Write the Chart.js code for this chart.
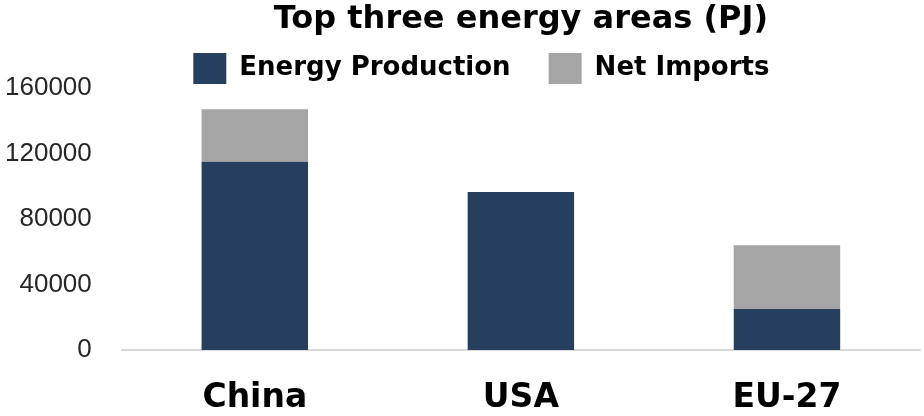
<!DOCTYPE html>
<html lang="en">
<head>
<meta charset="UTF-8">
<title>Top three energy areas (PJ)</title>
<script src="https://cdn.jsdelivr.net/npm/chart.js@4"></script>
<style>
  body { margin: 0; background: #fff; }
  #wrap { width: 924px; height: 416px; }
</style>
</head>
<body>
<div id="wrap"><canvas id="chart" width="924" height="416"></canvas></div>
<script>
  // values (PJ)
  const areas = ['China', 'USA', 'EU-27'];
  const production = [115000, 96500, 25000];
  const netImports = [32000, 0, 39000];
  const yTicks = [0, 40000, 80000, 120000, 160000];

  // legend labels.padding also sets the gap between items, so squeeze its height back
  // and nudge the centred row a bit to the left like the original
  const legendTweak = {
    id: 'legendTweak',
    afterInit(chart) {
      const fit = chart.legend.fit;
      chart.legend.fit = function () {
        fit.call(this);
        this.height = 73;
        if (this.lineWidths && this.lineWidths.length) this.lineWidths[0] += 79;
      };
    }
  };

  new Chart(document.getElementById('chart'), {
    type: 'bar',
    data: {
      labels: areas,
      datasets: [
        { label: 'Energy Production', data: production, backgroundColor: '#273F5F' },
        { label: 'Net Imports', data: netImports, backgroundColor: '#A5A5A5' }
      ]
    },
    options: {
      responsive: false,
      animation: false,
      // tick padding counts twice in the axis sizes, hence the negative paddings
      layout: { padding: { left: -25, right: 4, top: 0, bottom: -31 } },
      datasets: { bar: { categoryPercentage: 1, barPercentage: 0.4 } },
      plugins: {
        title: {
          display: true,
          text: 'Top three energy areas (PJ)',
          fullSize: false,
          color: '#000',
          font: { family: 'DejaVu Sans', weight: 'bold', size: 32 },
          padding: { top: 0, bottom: -23.4 }
        },
        legend: {
          fullSize: false,
          labels: {
            boxWidth: 33,
            boxHeight: 31,
            padding: 38,
            color: '#000',
            font: { family: 'DejaVu Sans', weight: 'bold', size: 26 }
          }
        },
        tooltip: { enabled: false }
      },
      scales: {
        x: {
          stacked: true,
          grid: { display: false, drawTicks: false },
          border: { display: true, color: '#D9D9D9', width: 2 },
          ticks: {
            color: '#000',
            padding: 32,
            font: { family: 'DejaVu Sans', weight: 'bold', size: 33, lineHeight: 1 }
          }
        },
        y: {
          stacked: true,
          min: 0,
          max: 160000,
          afterBuildTicks(scale) { scale.ticks = yTicks.map(v => ({ value: v })); },
          grid: { display: false, drawTicks: false },
          border: { display: false },
          ticks: {
            color: '#262626',
            padding: 30,
            font: { family: 'Liberation Sans', size: 26 },
            callback: v => String(v)
          }
        }
      }
    },
    plugins: [legendTweak]
  });
</script>
</body>
</html>
